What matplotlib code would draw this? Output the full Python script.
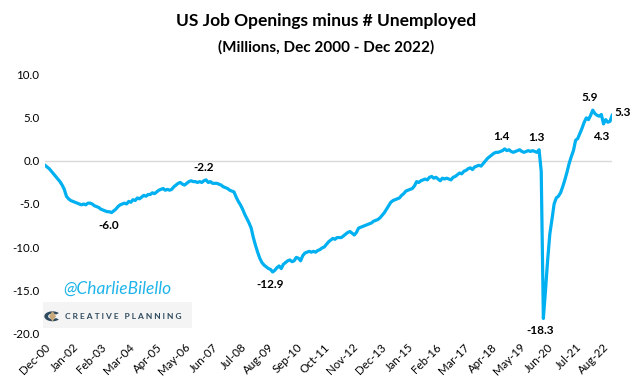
import numpy as np
import pandas as pd
import matplotlib
matplotlib.use("Agg")
from matplotlib import pyplot as plt
from matplotlib.patches import Rectangle, Polygon, Wedge

plt.rcParams['font.family'] = ['Lato', 'DejaVu Sans']

# job openings minus unemployed, millions, monthly Dec 2000 .. Dec 2022
gap_2000 = [-0.5]
gap_2001 = [-0.7, -0.9, -1.2, -1.5, -1.8, -2.1, -2.4, -2.8, -3.3, -4.1, -4.4, -4.6]
gap_2002 = [-4.7, -4.8, -4.9, -5.0, -5.1, -5.0, -5.1, -4.9, -4.9, -5.0, -5.2, -5.3]
gap_2003 = [-5.4, -5.6, -5.7, -5.8, -5.9, -5.9, -6.0, -5.8, -5.6, -5.3, -5.1, -5.0]
gap_2004 = [-4.9, -5.0, -4.7, -4.8, -4.5, -4.6, -4.3, -4.4, -4.2, -4.0, -4.1, -3.9]
gap_2005 = [-3.9, -3.7, -3.8, -3.6, -3.4, -3.3, -3.2, -3.4, -3.3, -3.4, -3.3, -3.0]
gap_2006 = [-2.8, -2.6, -2.5, -2.7, -2.8, -2.6, -2.4, -2.3, -2.4, -2.4, -2.5, -2.4]
gap_2007 = [-2.5, -2.3, -2.2, -2.5, -2.4, -2.6, -2.6, -2.6, -2.7, -2.8, -3.0, -3.1]
gap_2008 = [-3.2, -3.4, -3.5, -3.6, -4.2, -4.7, -5.1, -5.6, -6.2, -6.7, -7.2, -7.8]
gap_2009 = [-8.9, -9.8, -10.6, -11.3, -11.8, -12.1, -12.3, -12.5, -12.6, -12.9, -12.7, -12.4]
gap_2010 = [-12.2, -12.5, -12.0, -11.8, -11.6, -11.5, -11.7, -11.6, -11.2, -11.3, -11.6, -11.0]
gap_2011 = [-10.7, -10.6, -10.5, -10.6, -10.5, -10.6, -10.4, -10.3, -10.1, -10.0, -9.7, -9.4]
gap_2012 = [-9.2, -9.0, -9.1, -8.9, -8.9, -8.9, -8.7, -8.5, -8.3, -8.2, -8.4, -8.6]
gap_2013 = [-8.3, -7.8, -7.7, -7.6, -7.5, -7.4, -7.3, -7.2, -7.0, -6.9, -6.8, -6.6]
gap_2014 = [-6.3, -6.0, -5.6, -5.2, -4.8, -4.6, -4.5, -4.4, -4.3, -4.0, -3.8, -3.5]
gap_2015 = [-3.4, -3.3, -3.2, -2.9, -2.4, -2.5, -2.3, -2.2, -2.1, -2.2, -1.9, -1.8]
gap_2016 = [-2.0, -1.9, -2.1, -2.3, -2.0, -2.1, -2.0, -2.1, -2.2, -1.9, -1.8, -1.6]
gap_2017 = [-1.4, -1.5, -1.2, -1.1, -0.9, -0.8, -1.0, -0.7, -0.6, -0.5, -0.6, -0.3]
gap_2018 = [0.0, 0.3, 0.5, 0.7, 0.9, 1.0, 1.0, 1.1, 1.2, 1.4, 1.2, 1.3]
gap_2019 = [1.1, 1.0, 1.1, 1.2, 1.3, 1.1, 1.0, 1.1, 1.2, 1.1, 1.2, 1.1]
gap_2020 = [1.0, 1.3, -1.2, -18.3, -15.0, -11.5, -8.5, -6.8, -5.0, -4.3, -4.1, -3.7]
gap_2021 = [-3.0, -2.2, -1.3, -0.3, 0.5, 1.2, 2.4, 2.6, 3.2, 3.8, 4.5, 5.0]
gap_2022 = [4.8, 5.3, 5.9, 5.5, 5.3, 5.2, 5.4, 4.3, 4.8, 4.5, 4.6, 5.3]

gap = (gap_2000 + gap_2001 + gap_2002 + gap_2003 + gap_2004 + gap_2005 + gap_2006
       + gap_2007 + gap_2008 + gap_2009 + gap_2010 + gap_2011 + gap_2012 + gap_2013
       + gap_2014 + gap_2015 + gap_2016 + gap_2017 + gap_2018 + gap_2019 + gap_2020
       + gap_2021 + gap_2022)
months = pd.date_range("2000-12-01", periods=len(gap), freq="MS")

# labelled points: (month, text, placement)
callouts = [("2003-07", "-6.0", "below"), ("2007-03", "-2.2", "above"),
            ("2009-10", "-12.9", "below"), ("2018-10", "1.4", "above"),
            ("2020-02", "1.3", "above"), ("2020-04", "-18.3", "below"),
            ("2022-03", "5.9", "above"), ("2022-08", "4.3", "below"),
            ("2022-12", "5.3", "right")]

blue = "#00B0F0"
fig = plt.figure(figsize=(6.33, 3.82), dpi=100)
ax = fig.add_axes([0.071, 0.128, 0.896, 0.676])

x = np.arange(len(gap))
ax.plot(x, gap, color=blue, lw=2.3, solid_joinstyle="round", zorder=3)
ax.axhline(0, color="#d9d9d9", lw=1, zorder=1)

ax.set_xlim(0, len(gap) - 1)
ax.set_ylim(-20, 10)
ax.set_yticks(np.arange(-20, 11, 5))
ax.set_yticklabels([f"{v:.1f}" for v in np.arange(-20, 11, 5)], fontsize=8.3)
ticks = x[::13]
ax.set_xticks(ticks)
ax.set_xticklabels([months[i].strftime("%b-%y") for i in ticks], rotation=45,
                   ha="right", va="top", rotation_mode="anchor", fontsize=8.3)
ax.tick_params(length=0, pad=4)
ax.tick_params(axis="x", pad=6)
for s in ax.spines.values():
    s.set_visible(False)

idx = {m.strftime("%Y-%m"): i for i, m in enumerate(months)}
for key, txt, where in callouts:
    i = idx[key]
    v = gap[i]
    if where == "above":
        ax.annotate(txt, (i, v), xytext=(-2, 5), textcoords="offset points",
                    ha="center", va="bottom", fontsize=8.5, fontweight="bold")
    elif where == "below":
        ax.annotate(txt, (i, v), xytext=(-2, -5), textcoords="offset points",
                    ha="center", va="top", fontsize=8.5, fontweight="bold")
    else:
        ax.annotate(txt, (i, v), xytext=(1.5, 2), textcoords="offset points",
                    ha="left", va="center", fontsize=8.5, fontweight="bold",
                    annotation_clip=False)

fig.text(0.515, 0.945, "US Job Openings minus # Unemployed", ha="center", va="center",
         fontsize=12.5, fontweight="bold")
fig.text(0.515, 0.875, "(Millions, Dec 2000 - Dec 2022)", ha="center", va="center",
         fontsize=11, fontweight="bold")

# watermark + logo
fig.text(0.1, 0.243, "@CharlieBilello", color="#1FB5EA", fontsize=12.5, style="italic",
         va="center", ha="left")
fig.patches.append(Rectangle((0.068, 0.141), 0.235, 0.068, transform=fig.transFigure,
                             facecolor="#f4f4f4", edgecolor="none", zorder=0))
fig.patches.append(Wedge((0.083, 0.172), 0.013, 40, 320, width=0.006,
                         transform=fig.transFigure, facecolor="#2E4A5E", zorder=2))
fig.patches.append(Polygon([[0.083, 0.158], [0.0885, 0.172], [0.083, 0.186], [0.0775, 0.172]],
                           closed=True, transform=fig.transFigure,
                           facecolor="#C8A97A", edgecolor="none", zorder=3))
fig.text(0.103, 0.171, "C R E A T I V E   P L A N N I N G", color="#2E4A5E",
         fontsize=6.0, fontweight="bold", va="center", ha="left")

fig.savefig("out.png", dpi=100)
